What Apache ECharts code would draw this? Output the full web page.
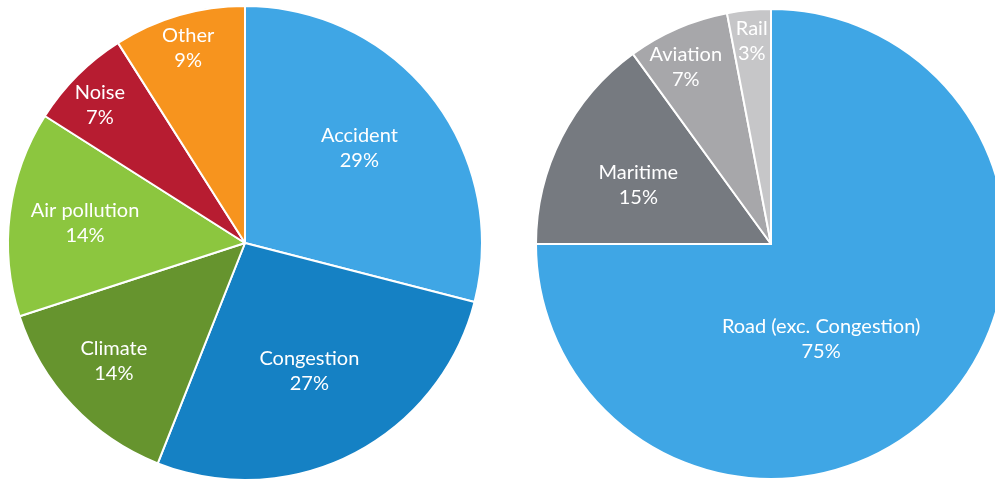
<!DOCTYPE html>
<html>
<head>
<meta charset="utf-8">
<script src="https://cdn.jsdelivr.net/npm/echarts@6/dist/echarts.min.js"></script>
<style>
  html, body { margin: 0; padding: 0; background: #fff; }
  #chart { width: 995px; height: 480px; }
</style>
</head>
<body>
<div id="chart"></div>
<script>
// External cost shares by cost type
const costCategories = ['Accident', 'Congestion', 'Climate', 'Air pollution', 'Noise', 'Other'];
const costShares = [29, 27, 14, 14, 7, 9];
const costColors = ['#3FA6E5', '#1581C4', '#66942E', '#8CC63F', '#B71C31', '#F7941E'];
// where each label's centre sits, relative to the pie centre (px)
const costLabelAt = [[112, -93], [63, 125], [-129, 116], [-157, -20], [-143, -136], [-56, -192]];

// External cost shares by transport mode
const modeCategories = ['Road (exc. Congestion)', 'Maritime', 'Aviation', 'Rail'];
const modeShares = [75, 15, 7, 3];
const modeColors = ['#3FA6E5', '#767A80', '#A7A7AA', '#C6C6C8'];
const modeLabelAt = [[48, 93], [-130, -58], [-84, -174], [-19, -200]];

const FONT = 'Lato, "Open Sans", sans-serif';

function buildItems(names, values, colors, labelAt, radius) {
  const total = values.reduce((a, b) => a + b, 0);
  let acc = 0;
  return names.map((name, i) => {
    const mid = (acc + values[i] / 2) / total * Math.PI * 2;
    acc += values[i];
    // default 'inside' label sits at half the radius on the mid angle
    const dx = Math.sin(mid) * radius / 2;
    const dy = -Math.cos(mid) * radius / 2;
    return {
      name: name,
      value: values[i],
      itemStyle: { color: colors[i] },
      label: { offset: [labelAt[i][0] - dx, labelAt[i][1] - dy] }
    };
  });
}

function pieSeries(center, radius, items) {
  return {
    type: 'pie',
    center: center,
    radius: radius,
    startAngle: 90,
    clockwise: true,
    animation: false,
    silent: true,
    itemStyle: { borderColor: '#ffffff', borderWidth: 2 },
    label: {
      show: true,
      position: 'inside',
      color: '#ffffff',
      fontFamily: FONT,
      fontSize: 20,
      lineHeight: 25,
      formatter: p => p.name + '\n' + p.value + '%'
    },
    labelLine: { show: false },
    emphasis: { disabled: true },
    data: items
  };
}

const chart = echarts.init(document.getElementById('chart'), null, { renderer: 'canvas' });
chart.setOption({
  backgroundColor: '#ffffff',
  series: [
    pieSeries([245, 243], 237, buildItems(costCategories, costShares, costColors, costLabelAt, 237)),
    pieSeries([771, 244], 235, buildItems(modeCategories, modeShares, modeColors, modeLabelAt, 235))
  ]
});
</script>
</body>
</html>
